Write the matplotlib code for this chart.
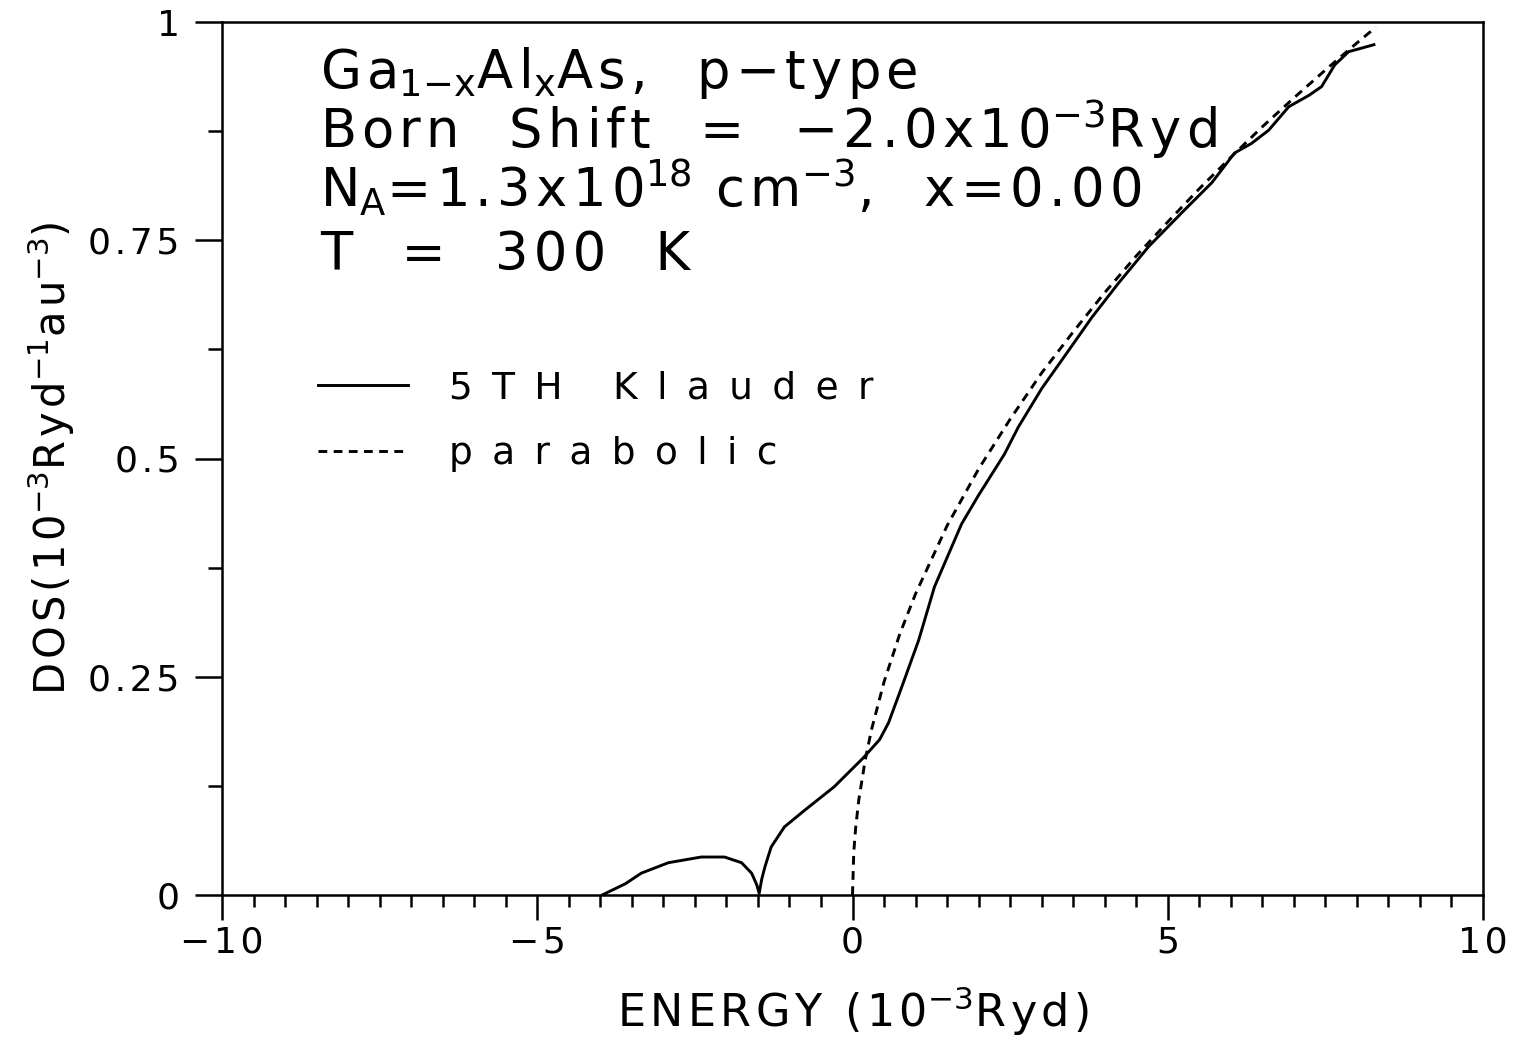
import matplotlib.pyplot as plt
from matplotlib.ticker import MultipleLocator

# DATOS
klauder_e = [-3.97, -3.60, -3.35, -2.92, -2.40, -2.03, -1.76, -1.60, -1.52, -1.48,
             -1.44, -1.39, -1.29, -1.08, -0.76, -0.29, 0.17, 0.43, 0.57, 0.78,
             1.05, 1.30, 1.73, 2.00, 2.41, 2.63, 3.00, 3.43, 3.80, 4.22,
             4.70, 5.27, 5.70, 6.06, 6.33, 6.60, 6.92, 7.24, 7.44, 7.65,
             7.87, 8.27]
klauder_dos = [0.000, 0.013, 0.025, 0.037, 0.0435, 0.0435, 0.037, 0.025, 0.012, 0.002,
               0.018, 0.032, 0.055, 0.078, 0.097, 0.124, 0.157, 0.178, 0.197, 0.238,
               0.292, 0.353, 0.425, 0.458, 0.505, 0.536, 0.580, 0.624, 0.662, 0.701,
               0.743, 0.785, 0.816, 0.850, 0.861, 0.876, 0.903, 0.916, 0.926, 0.951,
               0.966, 0.974]

parab_e = [0.0, 0.02, 0.05, 0.1, 0.2, 0.3, 0.5, 0.75, 1.0, 1.5, 2.0, 2.5,
           3.0, 3.5, 4.0, 4.5, 5.0, 5.5, 6.0, 6.5, 7.0, 7.5, 8.0, 8.3]
parab_dos = [0.0, 0.049, 0.077, 0.109, 0.154, 0.189, 0.244, 0.299, 0.345, 0.423, 0.488, 0.545,
             0.598, 0.645, 0.690, 0.732, 0.771, 0.809, 0.845, 0.880, 0.913, 0.945, 0.976, 0.994]

series_labels = ["5TH Klauder", "parabolic"]

xticks = [-10, -5, 0, 5, 10]
xtick_labels = ["−10", "−5", "0", "5", "10"]
yticks = [0, 0.25, 0.5, 0.75, 1]
ytick_labels = ["0", "0.25", "0.5", "0.75", "1"]

info_lines = [
    r"Ga$_{1{-}x}$Al$_x$As,  p−type",
    r"Born  Shift  =  −2.0x10$^{-3}$Ryd",
    r"N$_A$=1.3x10$^{18}$ cm$^{-3}$,  x=0.00",
    r"T  =  300  K",
]
info_baselines = [88, 148, 206, 270]   # px desde arriba

xlabel = r"ENERGY (10$^{-3}$Ryd)"
ylabel = r"DOS(10$^{-3}$Ryd$^{-1}$au$^{-3}$)"

plt.rcParams['font.family'] = ['DejaVu Sans']
plt.rcParams['mathtext.default'] = 'regular'


def track(s, gap="\u200a"):
    """Inserta espacio entre letras (solo fuera de $...$)."""
    parts = s.split("$")
    for i in range(0, len(parts), 2):
        parts[i] = gap.join(parts[i])
    return "$".join(parts)


W, H = 1515, 1040
fig = plt.figure(figsize=(W / 100, H / 100), dpi=100)
ax = fig.add_axes([222 / W, 1 - 895 / H, (1483 - 222) / W, (895 - 22) / H])

solid, = ax.plot(klauder_e, klauder_dos, color="black", lw=2.1)
dashed, = ax.plot(parab_e, parab_dos, color="black", lw=2.1, dashes=(3.0, 2.2))

ax.set_xlim(-10, 10)
ax.set_ylim(0, 1)

ax.set_xticks(xticks, [track(t) for t in xtick_labels])
ax.set_yticks(yticks, [track(t) for t in ytick_labels])
ax.xaxis.set_minor_locator(MultipleLocator(0.5))
ax.yaxis.set_minor_locator(MultipleLocator(0.125))

ax.tick_params(axis="x", which="major", direction="out", length=18, width=1.8, pad=4, labelsize=26)
ax.tick_params(axis="x", which="minor", direction="out", length=8.6, width=1.8)
ax.tick_params(axis="y", which="major", direction="out", length=19.5, width=1.8, pad=11, labelsize=26)
ax.tick_params(axis="y", which="minor", direction="out", length=10, width=1.8)
for sp in ax.spines.values():
    sp.set_linewidth(1.8)

ax.set_xlabel(track(xlabel), fontsize=32, labelpad=18)
ax.set_ylabel(track(ylabel), fontsize=30, labelpad=8)

for line, yb in zip(info_lines, info_baselines):
    fig.text(320 / W, 1 - yb / H, track(line), fontsize=38, va="baseline", ha="left")

ax.legend([solid, dashed], [track(l, " \u2009") for l in series_labels],
          loc="upper left", bbox_to_anchor=(318 / W, 1 - 370 / H),
          bbox_transform=fig.transFigure, frameon=False, fontsize=27,
          handlelength=2.4, handletextpad=1.1, labelspacing=0.8,
          borderpad=0, borderaxespad=0)

fig.savefig("out.png", dpi=100)
